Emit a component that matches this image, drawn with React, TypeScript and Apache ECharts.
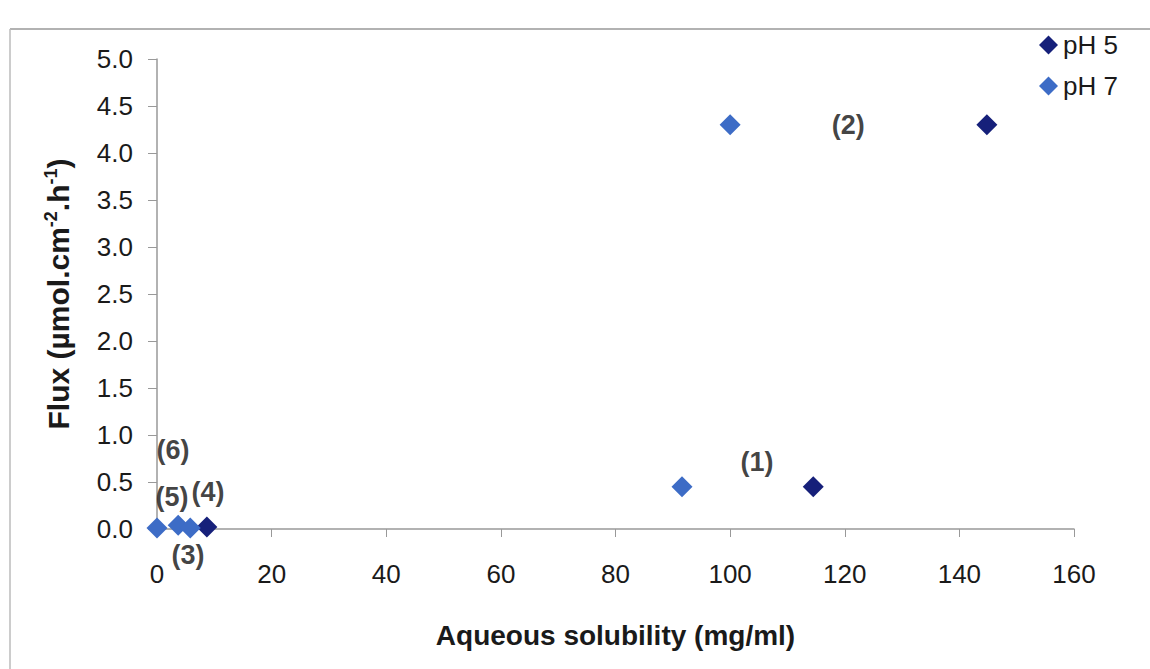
import React, { useEffect, useRef } from "react";
import * as echarts from "echarts";

const ph5Data: [number, number][] = [
  [8.7, 0.02],
  [114.5, 0.45],
  [144.8, 4.3],
];
const ph7Data: [number, number][] = [
  [0.0, 0.01],
  [3.7, 0.04],
  [5.8, 0.01],
  [91.6, 0.45],
  [100, 4.3],
];
const annotations: [number, number, string][] = [
  [2.8, 0.84, "(6)"],
  [2.6, 0.34, "(5)"],
  [8.9, 0.39, "(4)"],
  [5.4, -0.28, "(3)"],
  [104.7, 0.71, "(1)"],
  [120.6, 4.3, "(2)"],
];
const xTicks = { min: 0, max: 160, interval: 20 };
const yTicks = { min: 0, max: 5, interval: 0.5 };

export default function App() {
  const ref = useRef<HTMLDivElement>(null);
  useEffect(() => {
    if (!ref.current) return;
    const chart = echarts.init(ref.current, null, { renderer: "svg" });
    const font = "'Liberation Sans', Arial, sans-serif";
    chart.setOption({
      animation: false,
      backgroundColor: "#ffffff",
      textStyle: { fontFamily: font },
      grid: { left: 157, right: 76, top: 59, bottom: 140 },
      legend: {
        left: 1034,
        top: 27,
        orient: "vertical",
        itemGap: 15,
        itemWidth: 19,
        itemHeight: 19,
        icon: "diamond",
        textStyle: { fontSize: 26, color: "#1a1a1a", fontFamily: font },
        data: ["pH 5", "pH 7"],
      },
      graphic: [
        { type: "line", shape: { x1: 10, y1: 29, x2: 1150, y2: 29 }, style: { stroke: "#999", lineWidth: 1.5 } },
        { type: "line", shape: { x1: 10, y1: 29, x2: 10, y2: 669 }, style: { stroke: "#bbb", lineWidth: 1.5 } },
      ],
      xAxis: {
        type: "value",
        min: xTicks.min,
        max: xTicks.max,
        interval: xTicks.interval,
        splitLine: { show: false },
        axisLine: { show: true, onZero: false, lineStyle: { color: "#999", width: 1.5 } },
        axisTick: { show: true, length: 8, lineStyle: { color: "#999" } },
        axisLabel: { margin: 32, fontSize: 26, color: "#1a1a1a", fontFamily: font },
        name: "Aqueous solubility (mg/ml)",
        nameLocation: "middle",
        nameGap: 92,
        nameTextStyle: { fontSize: 28, fontWeight: "bold", color: "#1a1a1a", fontFamily: font },
      },
      yAxis: {
        type: "value",
        min: yTicks.min,
        max: yTicks.max,
        interval: yTicks.interval,
        splitLine: { show: false },
        axisLine: { show: true, lineStyle: { color: "#999", width: 1.5 } },
        axisTick: { show: true, length: 9, lineStyle: { color: "#999" } },
        axisLabel: {
          margin: 24,
          fontSize: 26,
          color: "#1a1a1a",
          fontFamily: font,
          formatter: (v: number) => v.toFixed(1),
        },
        name: "Flux (µmol.cm{sup|-2}.h{sup|-1})",
        nameLocation: "middle",
        nameGap: 82,
        nameTextStyle: {
          fontSize: 30,
          fontWeight: "bold",
          color: "#1a1a1a",
          fontFamily: font,
          rich: {
            sup: { fontSize: 18, fontWeight: "bold", color: "#1a1a1a", verticalAlign: "top", padding: [0, 0, 15, 0] },
          },
        },
      },
      series: [
        {
          name: "pH 5",
          type: "scatter",
          symbol: "diamond",
          symbolSize: 21,
          itemStyle: { color: "#16207a", opacity: 1 },
          data: ph5Data,
          z: 3,
        },
        {
          name: "pH 7",
          type: "scatter",
          symbol: "diamond",
          symbolSize: 21,
          itemStyle: { color: "#3d6cc6", opacity: 1 },
          data: ph7Data,
          z: 4,
        },
        {
          name: "labels",
          type: "scatter",
          symbolSize: 0,
          silent: true,
          itemStyle: { color: "#111" },
          data: annotations.map((a) => ({ value: [a[0], a[1]], name: a[2] })),
          label: {
            show: true,
            position: "inside",
            formatter: (p: any) => p.name,
            fontSize: 27,
            fontWeight: "bold",
            color: "#111",
            textBorderWidth: 0,
            fontFamily: font,
          },
          clip: false,
          z: 5,
        },
      ],
    });
    return () => chart.dispose();
  }, []);
  return (
    <div
      ref={ref}
      style={{ position: "fixed", left: 0, top: 0, width: 1150, height: 669 }}
    />
  );
}
